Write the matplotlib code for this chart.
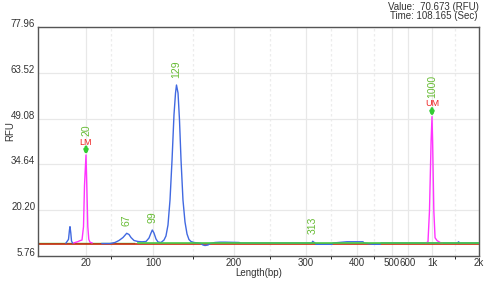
import numpy as np
import matplotlib
matplotlib.use("Agg")
import matplotlib.pyplot as plt
from matplotlib.ticker import FixedLocator, NullFormatter

plt.rcParams['font.family'] = ['Liberation Sans', 'DejaVu Sans']

# size calibration of the run (bp -> migration position)
ladder_bp = [5, 20, 100, 200, 300, 400, 500, 600, 1000, 2000]
ladder_pos = [38, 86, 153, 234, 306, 357, 392, 408, 432, 479]

# sample trace (blue)
blue_bp1 = [13.75, 14.53, 14.84, 15.0, 15.25, 15.47, 15.78]
blue_rfu1 = [9.86, 11.0, 14.0, 15.0, 13.0, 10.5, 9.86]
blue_bp2 = [39.1, 48.66, 54.63, 59.4, 64.18, 68.6, 71.34, 73.73, 77.31, 82.09,
            86.87, 91.64, 95.22, 97.61, 99.16, 101.2, 103.7, 106.2, 109.9, 113.6,
            116.0, 118.5, 121.0, 123.5, 125.9, 127.8, 129.0, 130.9, 132.7, 134.6,
            137.0, 139.5, 142.0, 144.4, 146.9, 150.6, 155.6, 159.3, 161.7, 164.2,
            167.9, 170.4, 176.5, 182.7, 188.9, 206.9, 209.7, 311.8, 313.0, 317.6,
            319.6, 351.0, 352.9, 380.4, 417.1, 420.0, 445.7, 465.7, 468.6, 1543,
            1565, 1587, 2000]
blue_rfu2 = [9.70, 9.70, 10.02, 10.65, 11.59, 12.92, 12.54, 11.59, 10.65, 10.33,
             10.24, 10.33, 11.43, 13.01, 13.96, 13.01, 11.12, 10.17, 10.02, 10.80,
             12.07, 15.53, 23.42, 36.03, 50.22, 57.15, 59.67, 57.15, 48.64, 36.03,
             23.42, 16.48, 12.70, 10.96, 10.33, 10.02, 9.86, 9.70, 9.23, 9.07,
             9.23, 9.70, 10.02, 10.12, 10.12, 10.02, 9.86, 9.86, 10.40, 9.86,
             9.45, 9.45, 9.86, 10.25, 10.25, 9.86, 9.45, 9.45, 9.86, 9.86,
             10.24, 9.86, 9.86]

# markers (magenta)
lm_bp = [16.25, 17.5, 18.13, 18.75, 19.22, 19.53, 20.0, 20.96, 22.15, 23.34, 24.78, 27.16]
lm_rfu = [9.9, 10.3, 10.6, 10.8, 15.0, 28.0, 37.6, 28.0, 15.0, 11.0, 10.1, 9.9]
um_bp = [900, 933, 958, 985, 1000, 1013, 1039, 1065, 1109, 1174, 1217]
um_rfu = [9.9, 10.2, 20.0, 42.0, 49.7, 42.0, 20.0, 11.5, 10.6, 10.0, 9.9]

peak_bp = [68.6, 99.16, 129.0, 313.0]
peak_rfu = [12.92, 13.96, 59.67, 10.40]
peak_labels = ['67', '99', '129', '313']

marker_bp = [20.0, 1000]
marker_rfu = [37.6, 49.7]
marker_size_labels = ['20', '1000']
marker_names = ['LM', 'UM']

yticks = [5.76, 20.20, 34.64, 49.08, 63.52, 77.96]
xticks = [20, 100, 200, 300, 400, 500, 600, 1000, 2000]
xticklabels = ['20', '100', '200', '300', '400', '500', '600', '1k', '2k']
xminor = [50, 150, 250, 350, 450, 1500]


def fwd(x):
    return np.interp(x, ladder_bp, ladder_pos)


def inv(p):
    return np.interp(p, ladder_pos, ladder_bp)


fig = plt.figure(figsize=(5.02, 2.82), dpi=100)
ax = fig.add_axes([38 / 502, 1 - 256 / 282, 441 / 502, 229 / 282])
ax.set_xscale('function', functions=(fwd, inv))
ax.set_xlim(5, 2000)
ax.set_ylim(5.76, 77.96)

green_lbl = '#66bb33'
ax.plot([5, 2000], [9.54, 9.54], color='#cc2a10', lw=1.2, zorder=2)
ax.plot([5, 77.3], [9.72, 9.72], color='#44cc44', lw=1.0, zorder=1.5)
ax.plot(blue_bp1, blue_rfu1, color='#4169e1', lw=1.0, zorder=3)
ax.plot(blue_bp2, blue_rfu2, color='#4169e1', lw=1.0, zorder=3)
ax.plot(lm_bp, lm_rfu, color='#ff33ff', lw=1.0, zorder=3)
ax.plot(um_bp, um_rfu, color='#ff33ff', lw=1.0, zorder=3)
ax.plot([82, 2000], [9.97, 9.97], color='#44cc44', lw=1.2, zorder=4)

for x, y, t in zip(peak_bp, peak_rfu, peak_labels):
    ax.annotate(t, (x, y), xytext=(0, 7), textcoords='offset pixels',
                rotation=90, ha='center', va='bottom', fontsize=7.5, color=green_lbl)

for x, y, t, n in zip(marker_bp, marker_rfu, marker_size_labels, marker_names):
    ax.annotate('', (x, y), xytext=(0, 8), textcoords='offset pixels',
                arrowprops=dict(arrowstyle='-|>', color='#33cc33', lw=2.2,
                                mutation_scale=4.5, shrinkA=0, shrinkB=0))
    ax.annotate(n, (x, y), xytext=(0, 8.5), textcoords='offset pixels',
                ha='center', va='bottom', fontsize=6.5, color='#ee2222')
    ax.annotate(t, (x, y), xytext=(0, 19), textcoords='offset pixels',
                rotation=90, ha='center', va='bottom', fontsize=7.5, color=green_lbl)

ax.xaxis.set_major_locator(FixedLocator(xticks))
ax.set_xticklabels(xticklabels)
ax.xaxis.set_minor_locator(FixedLocator(xminor))
ax.xaxis.set_minor_formatter(NullFormatter())
ax.set_yticks(yticks)
ax.set_yticklabels(['%.2f' % v for v in yticks])
for lab in ax.get_yticklabels():
    lab.set_va('baseline')
ax.tick_params(length=0, labelsize=7, labelcolor='#333333')
ax.tick_params(axis='x', pad=1.5)
ax.tick_params(axis='y', pad=2)

ax.grid(True, which='major', color='#e8e8e8', lw=0.9)
ax.grid(True, which='minor', axis='x', color='#ececec', lw=0.9, ls=(0, (2, 2)))
ax.set_axisbelow(True)
for s in ax.spines.values():
    s.set_color('#555555')
    s.set_linewidth(1)

ax.set_xlabel('Length(bp)', fontsize=7, color='#333333')
ax.xaxis.set_label_coords(0.5, -0.075)
ax.xaxis.label.set_va('center')
ax.set_ylabel('RFU', fontsize=7, color='#333333')
ax.yaxis.set_label_coords(-0.0635, 0.546)
ax.yaxis.label.set_va('center')

fig.text(479 / 502, 1 - 7.5 / 282, 'Value:  70.673 (RFU)', ha='right', va='center',
         fontsize=7, color='#333333')
fig.text(478 / 502, 1 - 16 / 282, 'Time: 108.165 (Sec)', ha='right', va='center',
         fontsize=7, color='#333333')

fig.savefig('out.png', dpi=100)
